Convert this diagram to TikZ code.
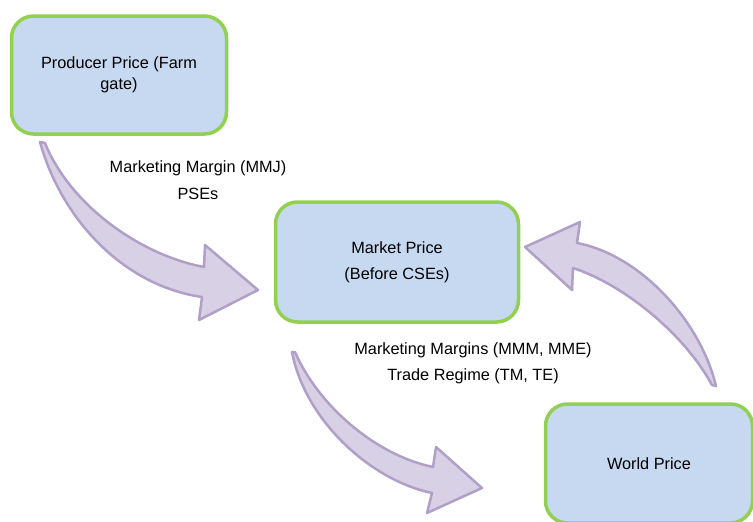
\documentclass[tikz,border=0pt]{standalone}
\usepackage{fontspec}
\setmainfont{Liberation Sans}
\usepackage{tikz}
\usepackage{xcolor}
\definecolor{boxfill}{RGB}{198,217,240}
\definecolor{boxline}{RGB}{146,208,80}
\definecolor{arrowfill}{RGB}{216,208,229}
\definecolor{arrowline}{RGB}{176,160,200}
\tikzset{
	pricenode/.style = {shape=rectangle, rounded corners=22pt,
		draw=boxline, line width=3.5pt, align=center,
		fill=boxfill, minimum width=215pt, minimum height=118pt},
	market/.style    = {pricenode, minimum width=243pt, minimum height=120pt},
	world/.style     = {pricenode, minimum width=207pt, minimum height=119pt},
	margin/.style    = {align=center},
	bigarrow/.style  = {fill=arrowfill, draw=arrowline, line width=2.5pt, line join=round}
}
\begin{document}
\begin{tikzpicture}
[
x                 = 1pt,
y                 = -1pt,
every node/.style = {font=\fontsize{16.3}{21}\selectfont}
]
\clip (0,0) rectangle (753,522);
\draw[bigarrow] (40,142) .. controls (60,215) and (120,285) .. (202,297)
	-- (199,320) -- (258,290) -- (205,245) -- (204,267)
	.. controls (140,255) and (70,205) .. (45,143) -- cycle;
\draw[bigarrow] (292,352) .. controls (305,420) and (370,480) .. (432,493)
	-- (427,513) -- (482,488) -- (436,447) -- (433,467)
	.. controls (375,455) and (318,405) .. (295,352) -- cycle;
\draw[bigarrow] (716,386) .. controls (700,320) and (640,255) .. (577,243)
	-- (580,222) -- (525,247) -- (572,290) -- (573,268)
	.. controls (625,285) and (685,335) .. (712,385) -- cycle;
\node [pricenode] (producer) at (119,75) {Producer Price (Farm\\gate)};
\node [market] (market) at (397,262) {Market Price\\[5pt](Before CSEs)};
\node [world] (world) at (649,463.5) {World Price};
\node [margin] (mmj) at (198,180) {Marketing Margin (MMJ)\\[6pt]PSEs};
\node [margin] (mmm) at (473,363) {Marketing Margins (MMM, MME)\\[5pt]Trade Regime (TM, TE)};
\end{tikzpicture}
\end{document}
